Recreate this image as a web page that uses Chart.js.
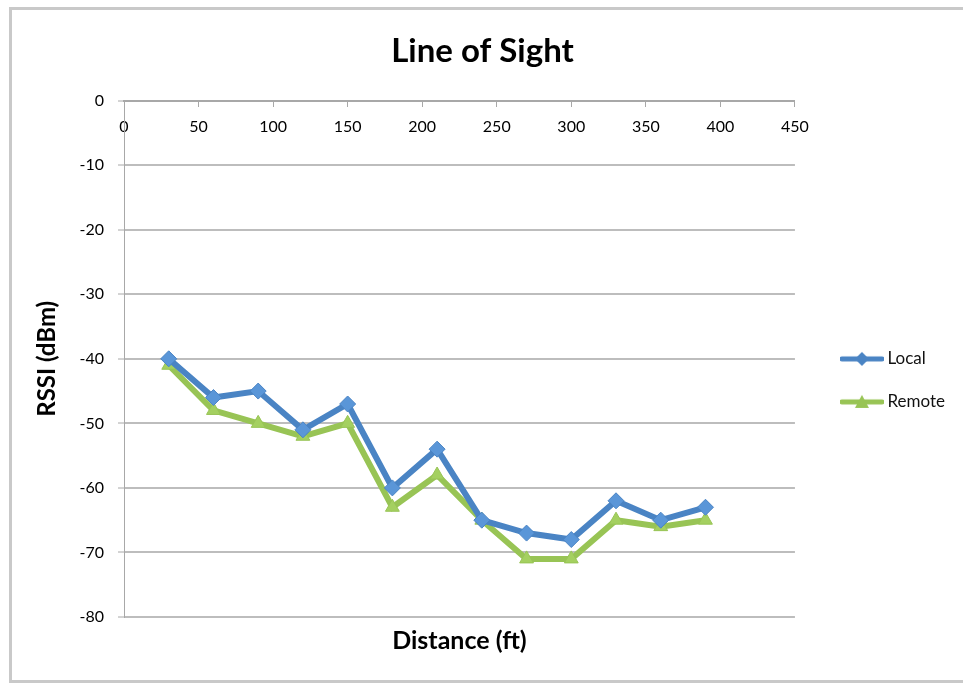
<!DOCTYPE html>
<html>
<head>
  <meta charset="UTF-8">
  <title>Line of Sight</title>
  <script src="https://cdn.jsdelivr.net/npm/chart.js"></script>
  <style>
    body { margin: 0; background: #fff; }
    #wrap { position: relative; width: 963px; height: 684px; overflow: hidden; }
    #frame { position: absolute; left: 9px; top: 7px; width: 980px; height: 676px;
             border: 3px solid #c9c9c9; box-sizing: border-box; }
    canvas { position: absolute; left: 0; top: 0; }
  </style>
</head>
<body>
<div id="wrap">
  <div id="frame"></div>
  <canvas id="grafica" width="963" height="684"></canvas>
</div>
<script>
const distancias = [30, 60, 90, 120, 150, 180, 210, 240, 270, 300, 330, 360, 390];
const local  = [-40, -46, -45, -51, -47, -60, -54, -65, -67, -68, -62, -65, -63];
const remoto = [-41, -48, -50, -52, -50, -63, -58, -65, -71, -71, -65, -66, -65];

const AZUL = '#4a84c4';
const VERDE = '#98c455';
const fuente = 'Lato, "Open Sans", sans-serif';

function pares(xs, ys) {
  return xs.map((x, i) => ({ x: x, y: ys[i] }));
}

// icono de leyenda: linea con marcador en medio
function iconoLeyenda(color, marcador) {
  const c = document.createElement('canvas');
  c.width = 44; c.height = 16;
  const g = c.getContext('2d');
  g.strokeStyle = color; g.lineWidth = 5; g.lineCap = 'round';
  g.beginPath(); g.moveTo(2, 8); g.lineTo(42, 8); g.stroke();
  g.fillStyle = color;
  g.beginPath();
  if (marcador === 'rombo') {
    g.moveTo(22, 1); g.lineTo(29, 8); g.lineTo(22, 15); g.lineTo(15, 8);
  } else {
    g.moveTo(22, 1); g.lineTo(29, 14); g.lineTo(15, 14);
  }
  g.closePath(); g.fill();
  return c;
}
const iconos = [iconoLeyenda(AZUL, 'rombo'), iconoLeyenda(VERDE, 'triangulo')];

const ctx = document.getElementById('grafica').getContext('2d');
const chart = new Chart(ctx, {
  type: 'scatter',
  data: {
    datasets: [{
      label: 'Local',
      data: pares(distancias, local),
      borderColor: AZUL,
      backgroundColor: '#5a96d8',
      pointBorderColor: AZUL,
      borderWidth: 6,
      pointStyle: 'rectRot',
      pointRadius: 8,
      pointBorderWidth: 1,
      showLine: true,
      tension: 0
    }, {
      label: 'Remote',
      data: pares(distancias, remoto),
      borderColor: VERDE,
      backgroundColor: '#a4d060',
      pointBorderColor: VERDE,
      borderWidth: 6,
      pointStyle: 'triangle',
      pointRadius: 8,
      pointBorderWidth: 1,
      showLine: true,
      tension: 0
    }]
  },
  options: {
    responsive: false,
    animation: false,
    layout: { padding: { left: 10, right: 8, top: 18, bottom: 0 } },
    plugins: {
      title: {
        display: true,
        text: 'Line of Sight',
        color: '#000',
        font: { family: fuente, size: 33, weight: 'bold' },
        padding: { top: 14, bottom: 29 }
      },
      legend: {
        position: 'right',
        title: { display: true, text: ' ', padding: { top: 42, bottom: 0 }, font: { size: 14 } },
        labels: {
          color: '#000',
          font: { family: fuente, size: 17 },
          usePointStyle: true,
          pointStyleWidth: 34,
          padding: 26,
          generateLabels: function (c) {
            return c.data.datasets.map((ds, i) => ({
              text: ds.label,
              datasetIndex: i,
              pointStyle: iconos[i],
              fillStyle: ds.borderColor,
              strokeStyle: ds.borderColor,
              fontColor: '#111',
              lineWidth: 0,
              hidden: false
            }));
          }
        }
      },
      tooltip: { enabled: false }
    },
    scales: {
      x: {
        type: 'linear',
        position: { y: 0 },
        min: 0,
        max: 450,
        ticks: { stepSize: 50, color: '#000', padding: 12, font: { family: fuente, size: 16 } },
        grid: { display: true, drawOnChartArea: false, color: '#a8a8a8', tickLength: 5, lineWidth: 1 },
        border: { display: true, color: '#a8a8a8', width: 2 }
      },
      xTitulo: {
        type: 'linear',
        position: 'bottom',
        min: 0,
        max: 450,
        ticks: { display: false },
        grid: { display: false, drawTicks: false },
        border: { display: false },
        title: {
          display: true,
          text: 'Distance (ft)',
          color: '#000',
          font: { family: fuente, size: 25, weight: 'bold' },
          padding: { top: 0, bottom: 28 }
        },
        afterFit: function (s) { s.height = 67; }
      },
      y: {
        min: -80,
        max: 0,
        ticks: { stepSize: 10, color: '#000', padding: 14, font: { family: fuente, size: 16 } },
        grid: { color: '#bdbdbd', lineWidth: 2, tickLength: 6, tickColor: '#a8a8a8', tickWidth: 1 },
        border: { display: true, color: '#a8a8a8', width: 1 },
        title: {
          display: true,
          text: 'RSSI (dBm)',
          color: '#000',
          font: { family: fuente, size: 24, weight: 'bold' },
          padding: { top: 23, bottom: 0 }
        },
        afterFit: function (s) { s.width = 114; }
      },
      // espacio vacio entre el area de datos y la leyenda
      yHueco: {
        position: 'right',
        min: -80,
        max: 0,
        ticks: { display: false },
        grid: { display: false, drawTicks: false },
        border: { display: false },
        afterFit: function (s) { s.width = 24; }
      }
    }
  }
});
</script>
</body>
</html>
